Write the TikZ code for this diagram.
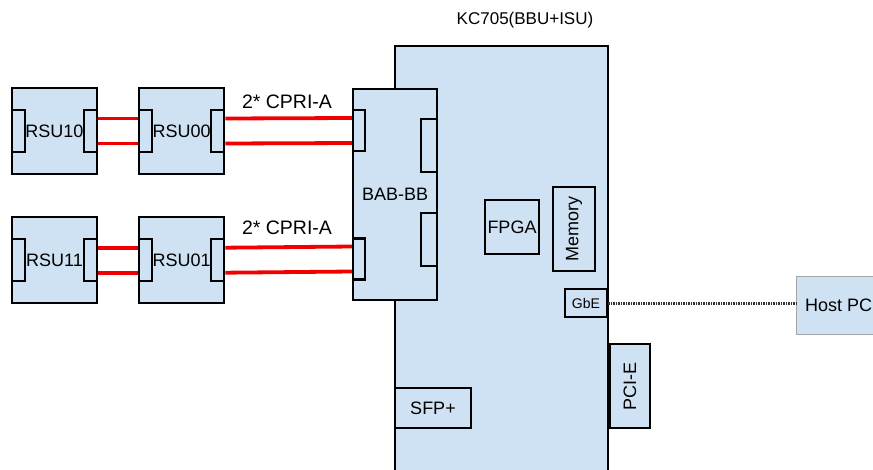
\documentclass[tikz,border=0pt]{standalone}
\usepackage{fontspec}
\setmainfont{Liberation Sans}
\usepackage{xcolor}
\usepackage{tikz}
\usetikzlibrary{positioning, calc}
\definecolor{boardblue}{RGB}{207,226,243}
\definecolor{linkred}{RGB}{240,0,0}

\begin{document}
\begin{tikzpicture}[
    x=1pt, y=-1pt,
    txt/.style={font=\fontsize{18}{21}\selectfont},
    box/.style={rectangle, draw, line width=2.2pt, fill=boardblue, inner sep=0pt, align=center, txt},
    rsu/.style={box, minimum width=85, minimum height=86},
    port/.style={box, minimum width=13, minimum height=42},
    cpri/.style={linkred, line width=3.8pt},
    gbelink/.style={line width=3pt, black!80, dash pattern=on 1.8pt off 0.7pt},
    host/.style={rectangle, draw=gray!70, line width=1.4pt, fill=boardblue, inner sep=0pt, txt}
]
\useasboundingbox (0,0) rectangle (873,469);

% KC705 board
\node[box, anchor=north west, minimum width=213, minimum height=440] (kc705) at (394,45) {};
\node[font=\fontsize{17}{20}\selectfont] (kctitle) at (525,20) {KC705(BBU+ISU)};

% BAB-BB card
\node[box, anchor=north west, minimum width=84, minimum height=211] (bab) at (352,88) {BAB-BB};
\node[box, minimum width=12, minimum height=41] (babl0) at (359,130.5) {};
\node[box, minimum width=12, minimum height=41] (babl1) at (359,259) {};
\node[box, minimum width=16, minimum height=53] (babr0) at (429,145.5) {};
\node[box, minimum width=16, minimum height=53] (babr1) at (429,239.5) {};

% on-board parts
\node[box, minimum width=54, minimum height=54] (fpga) at (512,227) {FPGA};
\node[box, rotate=90, minimum width=84, minimum height=42] (mem) at (574,229) {Memory};
\node[box, minimum width=42, minimum height=28, font=\fontsize{14}{16}\selectfont] (gbe) at (586,303) {GbE};
\node[box, rotate=90, minimum width=84, minimum height=40] (pcie) at (630,386) {PCI-E};
\node[box, minimum width=76, minimum height=40] (sfp) at (433,408) {SFP+};

% RSU chain 0
\node[rsu] (rsu10) at (54.5,131) {RSU10};
\node[rsu, right=40pt of rsu10] (rsu00) {RSU00};
\node[port, anchor=west] (rsu10l) at (rsu10.west) {};
\node[port, anchor=east] (rsu10r) at (rsu10.east) {};
\node[port, anchor=west] (rsu00l) at (rsu00.west) {};
\node[port, anchor=east] (rsu00r) at (rsu00.east) {};

% RSU chain 1
\node[rsu, below=41pt of rsu10] (rsu11) {RSU11};
\node[rsu, right=40pt of rsu11] (rsu01) {RSU01};
\node[port, anchor=west] (rsu11l) at (rsu11.west) {};
\node[port, anchor=east] (rsu11r) at (rsu11.east) {};
\node[port, anchor=west] (rsu01l) at (rsu01.west) {};
\node[port, anchor=east] (rsu01r) at (rsu01.east) {};

% CPRI links
\foreach \s in {12.5,-12.5} {
    \draw[cpri] ([yshift=\s pt]rsu10r.east) -- ([yshift=\s pt]rsu00l.west);
    \draw[cpri] ([yshift=\s pt]rsu00r.east) -- ([yshift=\s pt]babl0.west);
    \draw[cpri] ([yshift=\s pt]rsu11r.east) -- ([yshift=\s pt]rsu01l.west);
    \draw[cpri] ([yshift=\s pt]rsu01r.east) -- ([yshift=\s pt]babl1.west);
}
\node[font=\fontsize{19.5}{22}\selectfont] (cpri0) at (287,102) {2* CPRI-A};
\node[font=\fontsize{19.5}{22}\selectfont] (cpri1) at (287,228) {2* CPRI-A};

% Host PC
\node[host, anchor=west, minimum width=84, minimum height=58] (hostpc) at (796,305.5) {Host PC};
\draw[gbelink] (gbe.east) -- (hostpc.west |- gbe.east);

\end{tikzpicture}
\end{document}
